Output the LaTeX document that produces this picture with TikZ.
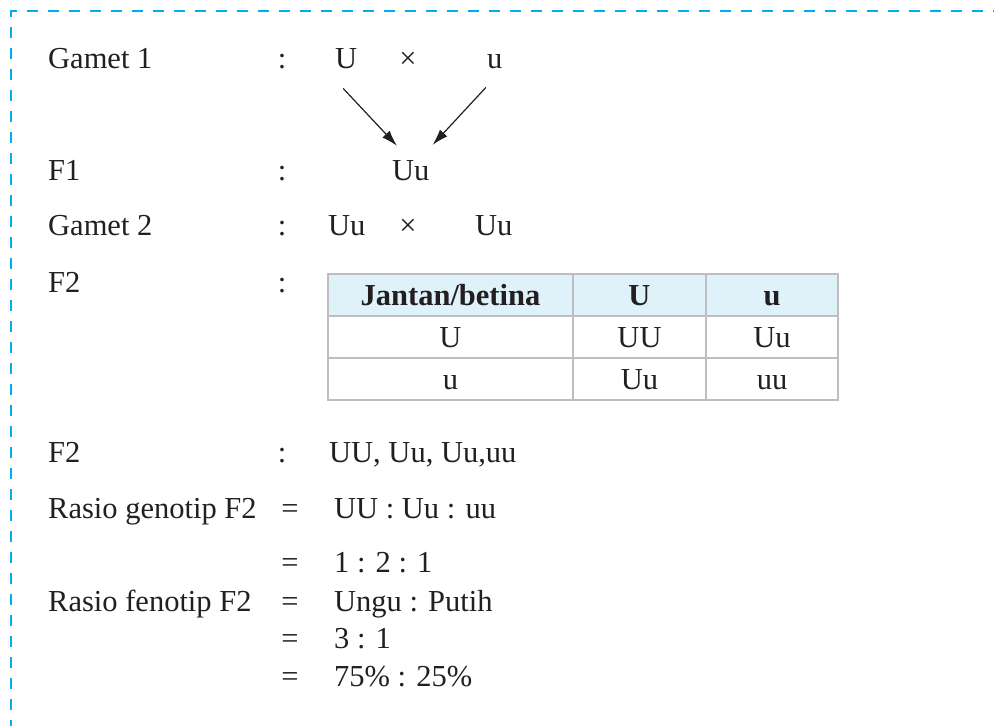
\documentclass[tikz,border=0pt]{standalone}
\usepackage{fontspec}
\setmainfont{Liberation Serif}
\usetikzlibrary{arrows.meta,positioning}
\definecolor{dashblue}{RGB}{0,174,239}
\definecolor{cellgray}{RGB}{190,190,190}
\definecolor{headblue}{RGB}{223,242,250}
\definecolor{inkblack}{RGB}{35,31,32}

\begin{document}
\begin{tikzpicture}[x=1pt, y=-1pt,
  txt/.style={font=\fontsize{30.5}{36}\selectfont, text=inkblack,
              inner sep=0pt, anchor=base west},
  sgn/.style={txt, anchor=base},
  cell/.style={draw=cellgray, line width=1.3pt, text=inkblack,
               font=\fontsize{30.5}{36}\selectfont, inner sep=0pt, outer sep=0pt,
               minimum height=42pt, text height=20pt, text depth=0pt},
  hcell/.style={cell, fill=headblue, font=\fontsize{30.5}{36}\selectfont\bfseries},
  arr/.style={-{Latex[length=16pt, width=10pt]}, line width=1.2pt, draw=inkblack},
  border/.style={draw=dashblue, line width=2.7pt, dash pattern=on 11pt off 10pt,
                 dash phase=4.5pt}
]
\useasboundingbox (0,0) rectangle (994,726);
\draw[border] (11,726) -- (11,11) -- (994,11);

% crossing F1
\node[txt] (lgam1) at (48,68) {Gamet 1};
\node[sgn] (cgam1) at (282,68) {:};
\node[txt] (gamU) at (335,68) {U};
\node[sgn] (xgam1) at (408,68) {×};
\node[txt] (gamu) at (487,68) {u};

\node[txt] (lf1) at (48,180) {F1};
\node[sgn] (cf1) at (282,180) {:};
\node[txt] (f1Uu) at (392,180) {Uu};

\draw[arr] ([shift={(-3,20)}]gamU.south) -- ([shift={(5,-14)}]f1Uu.north west);
\draw[arr] ([shift={(-9,19)}]gamu.south) -- ([shift={(3,-15)}]f1Uu.north east);

\node[txt] (lgam2) at (48,235) {Gamet 2};
\node[sgn] (cgam2) at (282,235) {:};
\node[txt] (gam2a) at (328,235) {Uu};
\node[sgn] (xgam2) at (408,235) {×};
\node[txt] (gam2b) at (475,235) {Uu};

% punnett square
\node[txt] (lf2t) at (48,292) {F2};
\node[sgn] (cf2t) at (282,292) {:};
\node[hcell, minimum width=245pt] (th1) at (450.5,295) {Jantan/betina};
\node[hcell, minimum width=133pt, right=0pt of th1] (th2) {U};
\node[hcell, minimum width=132pt, right=0pt of th2] (th3) {u};
\node[cell, minimum width=245pt, below=0pt of th1] (ta1) {U};
\node[cell, minimum width=133pt, below=0pt of th2] (ta2) {UU};
\node[cell, minimum width=132pt, below=0pt of th3] (ta3) {Uu};
\node[cell, minimum width=245pt, below=0pt of ta1] (tb1) {u};
\node[cell, minimum width=133pt, below=0pt of ta2] (tb2) {Uu};
\node[cell, minimum width=132pt, below=0pt of ta3] (tb3) {uu};

% ratios
\node[txt] (lf2) at (48,462) {F2};
\node[sgn] (cf2) at (282,462) {:};
\node[txt] (vf2) at (329,462) {UU, Uu, Uu,uu};

\node[txt] (lgeno) at (48,518) {Rasio genotip F2};
\node[sgn] (egeno1) at (290,518) {=};
\node[txt] (vgeno1) at (334,518) {UU : Uu : uu};
\node[sgn] (egeno2) at (290,572) {=};
\node[txt] (vgeno2) at (334,572) {1 : 2 : 1};

\node[txt] (lfeno) at (48,611) {Rasio fenotip F2};
\node[sgn] (efeno1) at (290,611) {=};
\node[txt] (vfeno1) at (334,611) {Ungu : Putih};
\node[sgn] (efeno2) at (290,648) {=};
\node[txt] (vfeno2) at (334,648) {3 : 1};
\node[sgn] (efeno3) at (290,686) {=};
\node[txt] (vfeno3) at (334,686) {75\% : 25\%};
\end{tikzpicture}
\end{document}
